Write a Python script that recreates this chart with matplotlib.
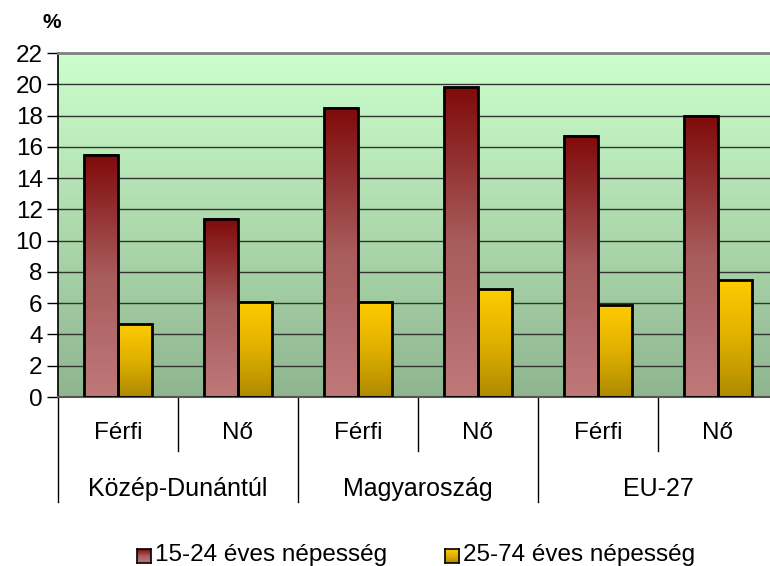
import matplotlib.pyplot as plt
import numpy as np
from matplotlib.colors import LinearSegmentedColormap
from matplotlib.patches import Rectangle

plt.rcParams['font.family'] = ['Liberation Sans', 'DejaVu Sans']

groups = ['Közép-Dunántúl', 'Magyaroszág', 'EU-27']
sexes = ['Férfi', 'Nő']
series_names = ['15-24 éves népesség', '25-74 éves népesség']
young = [15.5, 11.4, 18.5, 19.8, 16.7, 18.0]
adult = [4.7, 6.1, 6.1, 6.9, 5.9, 7.5]

red_cm = LinearSegmentedColormap.from_list('r', ['#bf7878', '#a85c5c', '#800a0a'])
yel_cm = LinearSegmentedColormap.from_list('y', ['#ae8a00', '#e0b000', '#ffcc00'])
bg_cm = LinearSegmentedColormap.from_list('g', ['#8fb58f', '#ccffcc'])
grad = np.linspace(0, 1, 256).reshape(-1, 1)[::-1]

W, H = 770, 566
fig = plt.figure(figsize=(W / 100, H / 100), dpi=100)
ax = fig.add_axes([58 / W, 1 - 397 / H, 720 / W, 344 / H])

ymax = 22
x = np.arange(len(young))
bw = 0.283

# background gradient
ax.imshow(grad, cmap=bg_cm, aspect='auto', extent=[-0.5, len(young) - 0.5, 0, ymax],
          zorder=0)
for v in range(2, ymax, 2):
    ax.axhline(v, color='#333333', lw=1.0, zorder=1)

def grad_bars(xs, vals, cm):
    for xi, v in zip(xs, vals):
        ax.imshow(grad, cmap=cm, aspect='auto',
                  extent=[xi - bw / 2, xi + bw / 2, 0, v], zorder=2)
        ax.add_patch(Rectangle((xi - bw / 2, 0), bw, v, fill=False,
                               edgecolor='black', lw=2, zorder=3))

grad_bars(x - bw / 2, young, red_cm)
grad_bars(x + bw / 2, adult, yel_cm)
ax.set_xlim(-0.5, len(young) - 0.5)
ax.set_ylim(0, ymax)

ax.set_yticks(range(0, ymax + 1, 2))
ax.tick_params(axis='y', labelsize=17.5, length=8, width=1, pad=3)
ax.set_xticks([])
ax.spines['right'].set_visible(False)
ax.spines['top'].set_color('#808080')
ax.spines['top'].set_linewidth(2)
ax.spines['bottom'].set_color('#555555')
ax.spines['bottom'].set_linewidth(1.5)
ax.spines['left'].set_linewidth(1.2)

fig.text(52 / W, 1 - 23 / H, '%', fontsize=15, fontweight='bold', ha='center', va='center')

# multi-level category axis
trans = ax.get_xaxis_transform()
for i in range(len(young)):
    ax.text(i, -0.104, sexes[i % 2], transform=trans, ha='center', va='center',
            fontsize=17.5)
for g, name in enumerate(groups):
    ax.text(2 * g + 0.5, -0.268, name, transform=trans, ha='center', va='center',
            fontsize=18)
for b in np.arange(-0.5, len(young), 1.0):
    idx = int(b + 0.5)
    y_end = -0.305 if idx % 2 == 0 else -0.157
    ax.plot([b, b], [0, y_end], transform=trans, color='black', lw=1, clip_on=False)

# legend
leg = [(137, series_names[0], red_cm), (445, series_names[1], yel_cm)]
for lx, lab, cm in leg:
    la = fig.add_axes([lx / W, 1 - 563 / H, 14 / W, 14 / H])
    la.imshow(grad, cmap=cm, aspect='auto', extent=[0, 1, 0, 1])
    la.set_xticks([]); la.set_yticks([])
    for s in la.spines.values():
        s.set_linewidth(1.2)
    fig.text((lx + 18) / W, 1 - 555 / H, lab, fontsize=17.5, ha='left', va='center')

fig.savefig('out.png', dpi=100)
